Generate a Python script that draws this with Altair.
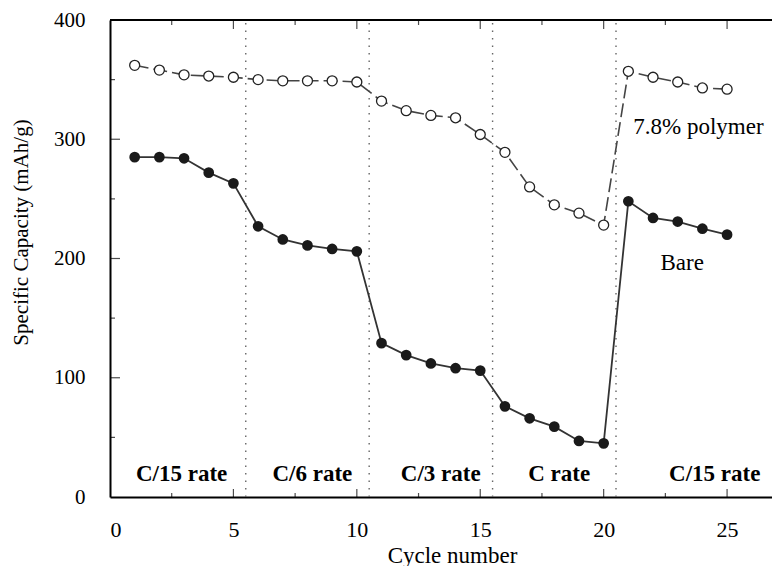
import altair as alt
import pandas as pd

# ---- data ----
cycles = list(range(1, 26))
polymer = [362, 358, 354, 353, 352, 350, 349, 349, 349, 348,
           332, 324, 320, 318, 304, 289, 260, 245, 238, 228,
           357, 352, 348, 343, 342]
bare = [285, 285, 284, 272, 263, 227, 216, 211, 208, 206,
        129, 119, 112, 108, 106, 76, 66, 59, 47, 45,
        248, 234, 231, 225, 220]

separators = [5.5, 10.5, 15.5, 20.5]
rate_labels = ["C/15 rate", "C/6 rate", "C/3 rate", "C rate", "C/15 rate"]
rate_x = [2.9, 8.2, 13.4, 18.2, 24.5]
rate_y = [13, 13, 13, 13, 13]

series_labels = ["7.8% polymer", "Bare"]
series_label_x = [21.2, 22.3]
series_label_y = [304, 190]

x_ticks = [0, 5, 10, 15, 20, 25]
x_minor = [2.5, 7.5, 12.5, 17.5, 22.5]
y_ticks = [0, 100, 200, 300, 400]
y_major_inner = [100, 200, 300]
y_minor = [50, 150, 250, 350]
x_max = 26.82
y_max = 400

FONT = "Liberation Serif"

df = pd.DataFrame({"x": cycles + cycles,
                   "y": polymer + bare,
                   "s": ["polymer"] * 25 + ["bare"] * 25})
dfp = df[df.s == "polymer"]
dfb = df[df.s == "bare"]

xscale = alt.Scale(domain=[0, x_max], nice=False, zero=False)
yscale = alt.Scale(domain=[0, y_max], nice=False)

xaxis = alt.Axis(values=x_ticks, title="Cycle number", format="d",
                 ticks=False, tickSize=0, labelPadding=22, grid=False,
                 domainColor="black", domainWidth=2,
                 labelFontSize=22, labelFont=FONT, labelColor="black",
                 titleFont=FONT, titleFontSize=23, titleFontWeight="normal",
                 titleColor="black", titleX=342, titleY=58,
                 titleBaseline="middle", titleAlign="center")
yaxis = alt.Axis(values=y_ticks, title="Specific Capacity (mAh/g)", format="d",
                 ticks=False, tickSize=0, labelPadding=25, grid=False,
                 domainColor="black", domainWidth=2,
                 labelFontSize=21, labelFont=FONT, labelColor="black",
                 titleFont=FONT, titleFontSize=21, titleFontWeight="normal",
                 titleColor="black", titleX=-89, titleY=212, titleAngle=270,
                 titleBaseline="middle", titleAlign="center")

X = alt.X("x:Q", scale=xscale, axis=xaxis)
Y = alt.Y("y:Q", scale=yscale, axis=yaxis)

# separators
sep_df = pd.DataFrame({"x": separators})
seps = alt.Chart(sep_df).mark_rule(color="#666", strokeWidth=1.4,
                                   strokeDash=[1.5, 6]).encode(
    x=X, y=alt.datum(0), y2=alt.datum(y_max))

# top frame line
top_df = pd.DataFrame({"x": [0], "x2": [x_max]})
top = alt.Chart(top_df).mark_rule(color="black", strokeWidth=2).encode(
    x=X, x2="x2:Q", y=alt.datum(y_max))

# inward ticks
bx_major = pd.DataFrame({"x": x_ticks[1:]})
bx_minor = pd.DataFrame({"x": x_minor})
bottom_major = alt.Chart(bx_major).mark_tick(orient="vertical", size=8, thickness=1.2,
                                             yOffset=-4, color="black").encode(x=X, y=alt.datum(0))
bottom_minor = alt.Chart(bx_minor).mark_tick(orient="vertical", size=4, thickness=1.2,
                                             yOffset=-2, color="black").encode(x=X, y=alt.datum(0))
top_major = alt.Chart(bx_major).mark_tick(orient="vertical", size=9, thickness=1.2,
                                          yOffset=4.5, color="black").encode(x=X, y=alt.datum(y_max))
top_minor = alt.Chart(bx_minor).mark_tick(orient="vertical", size=5, thickness=1.2,
                                          yOffset=2.5, color="black").encode(x=X, y=alt.datum(y_max))
ly_major = pd.DataFrame({"y": y_major_inner})
ly_minor = pd.DataFrame({"y": y_minor})
left_major = alt.Chart(ly_major).mark_tick(orient="horizontal", size=10, thickness=1.2,
                                           xOffset=5, color="black").encode(y=Y, x=alt.datum(0))
left_minor = alt.Chart(ly_minor).mark_tick(orient="horizontal", size=5, thickness=1.2,
                                           xOffset=2.5, color="black").encode(y=Y, x=alt.datum(0))

# series
poly_line = alt.Chart(dfp).mark_line(color="#444", strokeWidth=1.6,
                                     strokeDash=[14, 5]).encode(x=X, y=Y, order="x:Q")
bare_line = alt.Chart(dfb).mark_line(color="#333", strokeWidth=1.8).encode(x=X, y=Y, order="x:Q")
poly_pts = alt.Chart(dfp).mark_point(shape="circle", filled=True, fill="white",
                                     stroke="#222", strokeWidth=1.3, size=100,
                                     opacity=1).encode(x=X, y=Y)
bare_pts = alt.Chart(dfb).mark_point(shape="circle", filled=True, color="#1a1a1a",
                                     size=115, opacity=1).encode(x=X, y=Y)

# texts
rate_df = pd.DataFrame({"x": rate_x, "y": rate_y, "t": rate_labels})
rates = alt.Chart(rate_df).mark_text(font=FONT, fontSize=23, fontWeight="bold",
                                     align="center", baseline="alphabetic",
                                     color="black").encode(x=X, y=Y, text="t:N")
lab_df = pd.DataFrame({"x": series_label_x, "y": series_label_y, "t": series_labels})
labs = alt.Chart(lab_df).mark_text(font=FONT, fontSize=23, align="left",
                                   baseline="alphabetic", color="black").encode(
    x=X, y=Y, text="t:N")

chart = alt.layer(
    seps, top, bottom_major, bottom_minor, top_major, top_minor, left_major, left_minor,
    poly_line, bare_line, poly_pts, bare_pts, rates, labs
).properties(
    width=662, height=477,
    autosize=alt.AutoSizeParams(type="none"),
    padding={"left": 102, "top": 12, "right": 0, "bottom": 69},
    background="white",
).configure_view(strokeWidth=0)

chart.save("out.html", embed_options={"renderer": "svg", "actions": False})
